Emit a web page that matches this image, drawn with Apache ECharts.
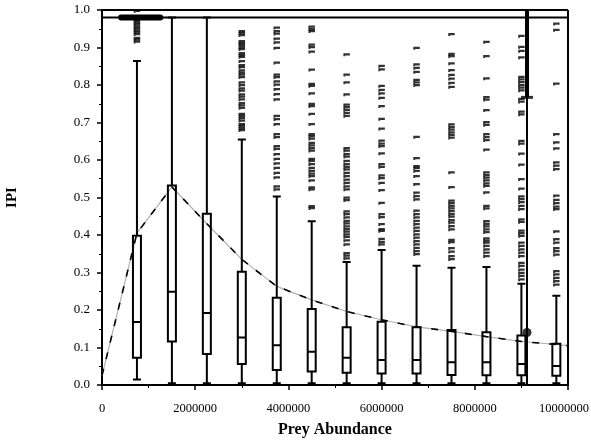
<!DOCTYPE html>
<html><head><meta charset="utf-8">
<script src="https://cdn.jsdelivr.net/npm/echarts@6/dist/echarts.min.js"></script>
<style>html,body{margin:0;padding:0;background:#fff}#c{width:591px;height:441px}</style>
</head><body><div id="c"></div>
<script>
// ---- data ----
const positions   = [750000,1500000,2250000,3000000,3750000,4500000,5250000,6000000,6750000,7500000,8250000,9000000,9750000];
const whiskerLow  = [0.015,0.005,0.005,0.005,0.005,0.005,0.005,0.005,0.005,0.005,0.005,0.005,0.005];
const q1          = [0.073,0.116,0.083,0.056,0.040,0.036,0.033,0.031,0.031,0.027,0.026,0.026,0.025];
const medians     = [0.168,0.249,0.192,0.127,0.106,0.089,0.073,0.067,0.067,0.061,0.061,0.056,0.051];
const q3          = [0.398,0.532,0.457,0.302,0.233,0.203,0.154,0.169,0.154,0.147,0.141,0.132,0.110];
const whiskerHigh = [0.864,0.980,0.980,0.655,0.503,0.437,0.328,0.360,0.318,0.313,0.315,0.270,0.238];
const outliers = [
  [0.997,0.975,0.97,0.965,0.96,0.955,0.95,0.945,0.94,0.935,0.925,0.92,0.915],
  [],
  [],
  [0.943,0.938,0.932,0.916,0.911,0.906,0.900,0.895,0.884,0.879,0.874,0.863,0.852,0.847,0.838,0.832,0.827,0.820,0.806,0.799,0.790,0.784,0.774,0.768,0.761,0.751,0.745,0.738,0.722,0.717,0.711,0.704,0.695,0.690,0.684,0.679],
  [0.952,0.943,0.936,0.923,0.913,0.898,0.859,0.827,0.820,0.809,0.800,0.788,0.775,0.761,0.717,0.708,0.695,0.668,0.660,0.636,0.629,0.615,0.602,0.590,0.578,0.565,0.553,0.529,0.521],
  [0.955,0.948,0.943,0.907,0.900,0.888,0.840,0.802,0.797,0.777,0.749,0.743,0.722,0.695,0.668,0.663,0.656,0.645,0.638,0.631,0.624,0.602,0.597,0.588,0.578,0.570,0.563,0.556,0.545,0.526,0.521,0.476,0.471],
  [0.881,0.827,0.806,0.774,0.747,0.740,0.733,0.725,0.717,0.631,0.624,0.615,0.608,0.597,0.588,0.581,0.574,0.565,0.556,0.547,0.538,0.529,0.521,0.499,0.492,0.462,0.455,0.446,0.437,0.430,0.422,0.415,0.408,0.401,0.394,0.385,0.374,0.351,0.344,0.337],
  [0.850,0.841,0.797,0.786,0.777,0.765,0.743,0.709,0.683,0.651,0.643,0.636,0.617,0.588,0.581,0.558,0.551,0.538,0.519,0.485,0.455,0.447,0.428,0.415,0.410,0.389,0.381,0.374],
  [0.898,0.854,0.845,0.834,0.813,0.806,0.799,0.661,0.604,0.583,0.578,0.570,0.556,0.535,0.512,0.503,0.494,0.464,0.455,0.446,0.437,0.428,0.419,0.410,0.401,0.392,0.383,0.374,0.365,0.356,0.348],
  [0.935,0.882,0.876,0.857,0.839,0.826,0.816,0.805,0.794,0.694,0.687,0.680,0.673,0.666,0.659,0.566,0.527,0.491,0.484,0.477,0.470,0.463,0.455,0.448,0.439,0.432,0.423,0.414,0.386,0.380,0.364,0.355,0.343,0.335],
  [0.914,0.876,0.817,0.767,0.760,0.732,0.700,0.693,0.668,0.660,0.652,0.627,0.566,0.559,0.552,0.545,0.537,0.530,0.513,0.477,0.470,0.436,0.429,0.422,0.414,0.407,0.390,0.384,0.379,0.370,0.361,0.352,0.343],
  [0.930,0.901,0.890,0.873,0.821,0.814,0.807,0.799,0.792,0.785,0.762,0.755,0.728,0.721,0.650,0.643,0.616,0.587,0.548,0.523,0.502,0.495,0.487,0.477,0.468,0.441,0.434,0.411,0.404,0.397,0.379,0.370,0.361,0.352,0.343,0.325,0.317,0.307,0.298,0.290,0.281],
  [0.963,0.946,0.803,0.668,0.646,0.630,0.593,0.584,0.575,0.504,0.493,0.484,0.475,0.468,0.409,0.388,0.379,0.364,0.356,0.347,0.303,0.294,0.285,0.276,0.267]
];
const curveX = [0,750000,1500000,2250000,3000000,3750000,4500000,5250000,6000000,6750000,7500000,8250000,9000000,9750000,10000000];
const curveY = [0.025,0.405,0.528,0.430,0.335,0.263,0.227,0.196,0.174,0.155,0.143,0.129,0.116,0.108,0.105];
const refLineLevel = 0.98;
const blobRange = [410000,1250000];
const refX = 9120000;
const refThick = [1.0,0.767];
const refThin = [0.767,0.0];
const refDot = 0.14;
const xTicks = [0,2000000,4000000,6000000,8000000,10000000];

// ---- build ----
const boxData = positions.map((p,i)=>[p,whiskerLow[i],q1[i],medians[i],q3[i],whiskerHigh[i]]);
const outData = [];
outliers.forEach((arr,i)=>arr.forEach(v=>outData.push([positions[i],v])));
const curve = curveX.map((x,i)=>[x,curveY[i]]);
const font = 'Liberation Serif';
const tickMark = 'path://M0,0 L7,0 L7,3 L2,3 L2,4 L0,4 Z';
const xMax = xTicks[xTicks.length-1];

const chart = echarts.init(document.getElementById('c'),null,{renderer:'canvas'});
chart.setOption({
  animation:false,
  backgroundColor:'#fff',
  grid:{left:102,right:23,top:10,bottom:56,containLabel:false,outerBoundsMode:'none'},
  xAxis:{type:'value',min:0,max:xMax,interval:2000000,
    name:'Prey Abundance',nameLocation:'middle',nameGap:37,
    nameTextStyle:{fontFamily:font,fontWeight:'bold',fontSize:16,color:'#000'},
    axisLine:{lineStyle:{color:'#000',width:2}},
    axisTick:{length:5,lineStyle:{color:'#000',width:1.5}},
    minorTick:{show:true,splitNumber:2,length:3,lineStyle:{color:'#000'}},
    splitLine:{show:false},
    axisLabel:{fontFamily:font,fontSize:12.5,color:'#000',margin:17,hideOverlap:false,
      rich:{m:{fontFamily:font,fontSize:12.5,color:'#000',padding:[0,8,0,0]}},
      formatter:v=>v===xMax?'{m|'+v+'}':(xTicks.includes(v)?String(v):'')}},
  yAxis:{type:'value',min:0,max:1,interval:0.1,
    name:'IPI',nameLocation:'middle',nameGap:82,nameRotate:90,
    nameTextStyle:{fontFamily:font,fontWeight:'bold',fontSize:15,color:'#000'},
    axisLine:{lineStyle:{color:'#000',width:2}},
    axisTick:{length:5,lineStyle:{color:'#000',width:1.5}},
    minorTick:{show:true,splitNumber:2,length:3,lineStyle:{color:'#000'}},
    splitLine:{show:false},
    axisLabel:{fontFamily:font,fontSize:13,color:'#000',margin:12,formatter:v=>v.toFixed(1)}},
  series:[
    {type:'line',data:curve,symbol:'none',lineStyle:{color:'#b0b0b0',width:1.2},z:1},
    {type:'line',data:curve,symbol:'none',lineStyle:{color:'#000',width:1.6,type:[7,10]},z:2},
    {type:'boxplot',data:boxData,boxWidth:[8,8],
      itemStyle:{color:'rgba(255,255,255,0)',borderColor:'#000',borderWidth:2},z:3},
    {type:'scatter',data:outData,symbol:tickMark,symbolSize:[6.5,3],itemStyle:{color:'#000'},z:4},
    {type:'line',data:[[0,refLineLevel],[xMax,refLineLevel]],symbol:'none',lineStyle:{color:'#000',width:2},z:5},
    {type:'line',data:[[0,1],[xMax,1]],symbol:'none',lineStyle:{color:'#000',width:2},z:5},
    {type:'line',data:[[xMax,0],[xMax,1]],symbol:'none',lineStyle:{color:'#000',width:2},z:5},
    {type:'line',data:[[blobRange[0],refLineLevel],[blobRange[1],refLineLevel]],symbol:'none',lineStyle:{color:'#000',width:6,cap:'round'},z:5},
    {type:'line',data:[[refX,refThick[0]],[refX,refThick[1]]],symbol:'none',lineStyle:{color:'#000',width:4},z:5},
    {type:'line',data:[[refX,refThin[0]],[refX,refThin[1]]],symbol:'none',lineStyle:{color:'#000',width:2},z:5},
    {type:'scatter',data:[[refX,refThick[1]]],symbol:'rect',symbolSize:[12,3],itemStyle:{color:'#000'},z:6},
    {type:'scatter',data:[[refX,refDot]],symbol:'circle',symbolSize:9,itemStyle:{color:'#000'},z:6}
  ]
});
</script></body></html>
